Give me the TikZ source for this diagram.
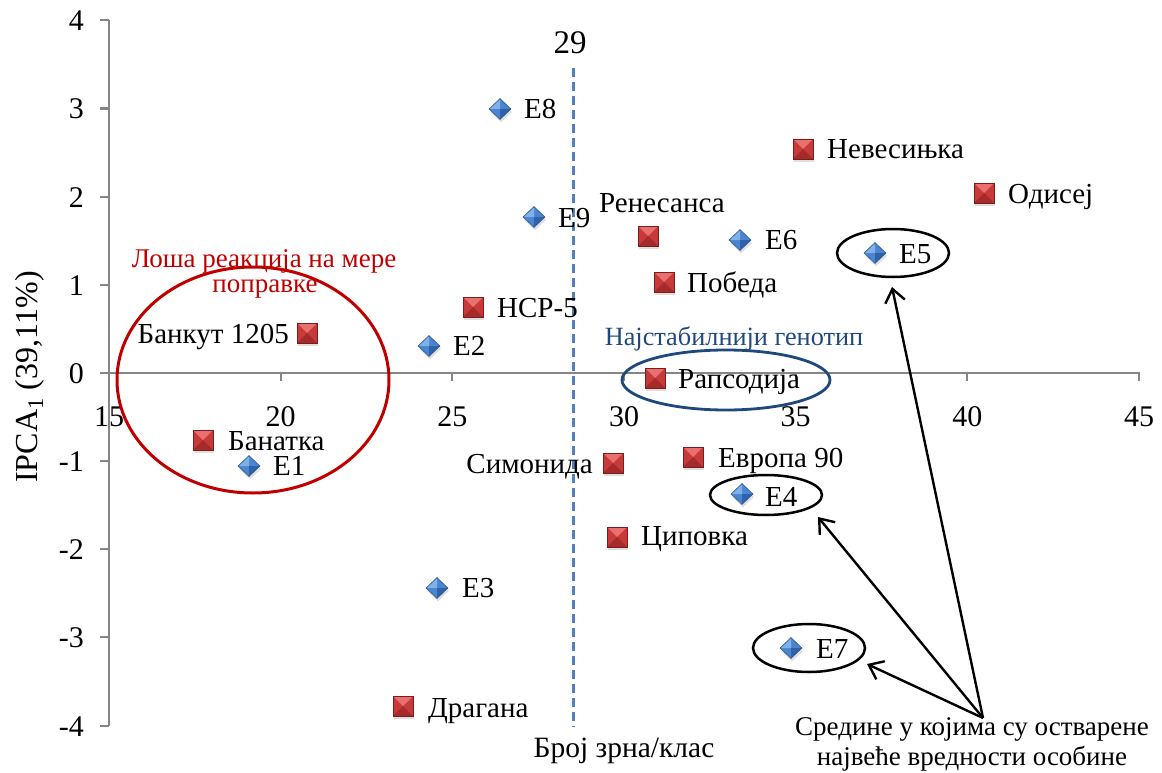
\documentclass[tikz,border=0pt]{standalone}
\usepackage{fontspec}
\setmainfont{Liberation Serif}
\usetikzlibrary{shapes.geometric,arrows.meta,shadows}
\definecolor{axisgray}{HTML}{868686}
\definecolor{dashblue}{HTML}{4F81BD}
\definecolor{poorred}{HTML}{C00000}
\definecolor{stableblue}{HTML}{1F497D}
\definecolor{sqtop}{HTML}{E8706E}
\definecolor{sqmid}{HTML}{C8393A}
\definecolor{sqbot}{HTML}{A52A2A}
\definecolor{sqedge}{HTML}{7A1D1D}
\definecolor{diatop}{HTML}{7FB0E8}
\definecolor{diamid}{HTML}{4A86CF}
\definecolor{diabot}{HTML}{2F62A8}
\definecolor{diaedge}{HTML}{2B5797}
\tikzset{
  sqm/.style={rectangle, minimum size=20pt, inner sep=0pt, fill=sqmid,
    draw=sqedge, line width=0.8pt,
    drop shadow={shadow xshift=1pt, shadow yshift=-3pt, opacity=0.25},
    path picture={
      \fill[sqtop] (path picture bounding box.north west) -- (path picture bounding box.north east) -- (path picture bounding box.center) -- cycle;
      \fill[sqbot] (path picture bounding box.south west) -- (path picture bounding box.south east) -- (path picture bounding box.center) -- cycle;
    }},
  dia/.style={diamond, minimum width=22pt, minimum height=21pt, inner sep=0pt,
    fill=diamid, draw=diaedge, line width=0.6pt,
    drop shadow={shadow xshift=1pt, shadow yshift=-3pt, opacity=0.25},
    path picture={
      \fill[diatop] (path picture bounding box.west) -- (path picture bounding box.north) -- (path picture bounding box.center) -- cycle;
      \fill[diabot] (path picture bounding box.south) -- (path picture bounding box.east) -- (path picture bounding box.center) -- cycle;
    }},
  lbl/.style={font=\fontsize{29}{33}\selectfont, inner sep=0pt, anchor=base west},
  lble/.style={lbl, anchor=base east},
  tick/.style={font=\fontsize{30}{34}\selectfont, inner sep=0pt},
  axisline/.style={draw=axisgray, line width=2.2pt},
  ring/.style={ellipse, draw=black, line width=2.5pt, inner sep=0pt},
  pointer/.style={draw=black, line width=2.4pt, -{Straight Barb[length=13pt,width=20pt,line width=2.4pt]}},
}
\begin{document}
\begin{tikzpicture}[x=1pt,y=-1pt]
\useasboundingbox (0,0) rectangle (1162,773);
% axes
\draw[axisline] (109,20) -- (109,726);
\draw[axisline] (109,373) -- (1140,373);
\foreach \v/\yy in {4/20,3/108.5,2/196.7,1/285,0/373,-1/461,-2/549,-3/637,-4/726}{
  \draw[axisline] (100,\yy) -- (109,\yy);
  \node[tick, anchor=base east] at (84,\yy+10.5) {\v};
}
\foreach \v/\xx in {15/109,20/280.7,25/452.3,30/624,35/795.7,40/967.3,45/1139}{
  \draw[axisline] (\xx,373) -- (\xx,381);
  \node[tick, anchor=base] at (\xx,426) {\v};
}
\node[font=\fontsize{32}{36}\selectfont, rotate=90, anchor=base, inner sep=0pt] (ylab) at (37,377) {IPCA\textsubscript{1} (39,11\%)};
% dashed line at 29
\draw[dashblue, line width=3pt, dash pattern=on 9pt off 5pt] (573,68) -- (573,727);
\node[font=\fontsize{33}{36}\selectfont, anchor=base, inner sep=0pt] (l29) at (570,54) {29};
\node[font=\fontsize{29.5}{33}\selectfont, anchor=base, inner sep=0pt] (xlab) at (624,757) {Број зрна/клас};
% ellipses
\node[ellipse, draw=poorred, line width=3pt, minimum width=272pt, minimum height=226pt, inner sep=0pt] (poor) at (253,380) {};
\node[ellipse, draw=stableblue, line width=2.8pt, minimum width=208pt, minimum height=60pt, inner sep=0pt] (stable) at (726,380) {};
\node[ring, minimum width=112pt, minimum height=48pt] (ringE5) at (893,253) {};
\node[ring, minimum width=112pt, minimum height=40pt] (ringE4) at (766,495) {};
\node[ring, minimum width=112pt, minimum height=48pt] (ringE7) at (809,648) {};
% annotations
\node[font=\fontsize{27}{30}\selectfont, text=poorred, anchor=base, inner sep=0pt] (poorA) at (264,267) {Лоша реакција на мере};
\node[font=\fontsize{27}{30}\selectfont, text=poorred, anchor=base, inner sep=0pt] (poorB) at (265,292) {поправке};
\node[font=\fontsize{26.3}{30}\selectfont, text=stableblue, anchor=base, inner sep=0pt] (stabletxt) at (734,345) {Најстабилнији генотип};
\node[font=\fontsize{27}{30}\selectfont, anchor=base, inner sep=0pt] (envA) at (972,735) {Средине у којима су остварене};
\node[font=\fontsize{27}{30}\selectfont, anchor=base, inner sep=0pt] (envB) at (972,765) {највеће вредности особине};
% squares (genotypes)
\node[sqm] (bankut) at (307,333) {};
\node[lble] (lbankut) at (289,343) {Банкут 1205};
\node[sqm] (banatka) at (203,440) {};
\node[lbl] (lbanatka) at (228,450) {Банатка};
\node[sqm] (nsr) at (473,307) {};
\node[lbl] (lnsr) at (497,317) {НСР-5};
\node[sqm] (renesansa) at (648,236) {};
\node[lbl] (lrenesansa) at (599,212) {Ренесанса};
\node[sqm] (pobeda) at (664,282) {};
\node[lbl] (lpobeda) at (687,292) {Победа};
\node[sqm] (nevesinjka) at (803,149) {};
\node[lbl] (lnevesinjka) at (827,159) {Невесињка};
\node[sqm] (odisej) at (984,193) {};
\node[lbl] (lodisej) at (1008,204) {Одисеј};
\node[sqm] (rapsodija) at (655,378) {};
\node[lbl] (lrapsodija) at (678,388) {Рапсодија};
\node[sqm] (simonida) at (613,463) {};
\node[lble] (lsimonida) at (593,473) {Симонида};
\node[sqm] (evropa) at (693,457) {};
\node[lbl] (levropa) at (718,467) {Европа 90};
\node[sqm] (cipovka) at (617,537) {};
\node[lbl] (lcipovka) at (641,545) {Циповка};
\node[sqm] (dragana) at (403,706) {};
\node[lbl] (ldragana) at (428,717) {Драгана};
% diamonds (environments)
\node[dia] (E1) at (249,466) {};
\node[lbl] (lE1) at (273,475) {E1};
\node[dia] (E2) at (429,346) {};
\node[lbl] (lE2) at (453,355) {E2};
\node[dia] (E3) at (437,588) {};
\node[lbl] (lE3) at (462,597) {E3};
\node[dia] (E4) at (742,494) {};
\node[lbl] (lE4) at (765,506) {E4};
\node[dia] (E5) at (875,253) {};
\node[lbl] (lE5) at (899,263) {E5};
\node[dia] (E6) at (740,240) {};
\node[lbl] (lE6) at (765,249) {E6};
\node[dia] (E7) at (791,648) {};
\node[lbl] (lE7) at (816,658) {E7};
\node[dia] (E8) at (500,109) {};
\node[lbl] (lE8) at (524,119) {E8};
\node[dia] (E9) at (534,217) {};
\node[lbl] (lE9) at (558,227) {E9};
% arrows
\coordinate (src) at (983,718);
\coordinate (tipE5) at (892,287);
\coordinate (tipE4) at (818,517);
\coordinate (tipE7) at (867,664);
\draw[pointer] (src) -- (tipE5);
\draw[pointer] (src) -- (tipE4);
\draw[pointer] (src) -- (tipE7);
\end{tikzpicture}
\end{document}
